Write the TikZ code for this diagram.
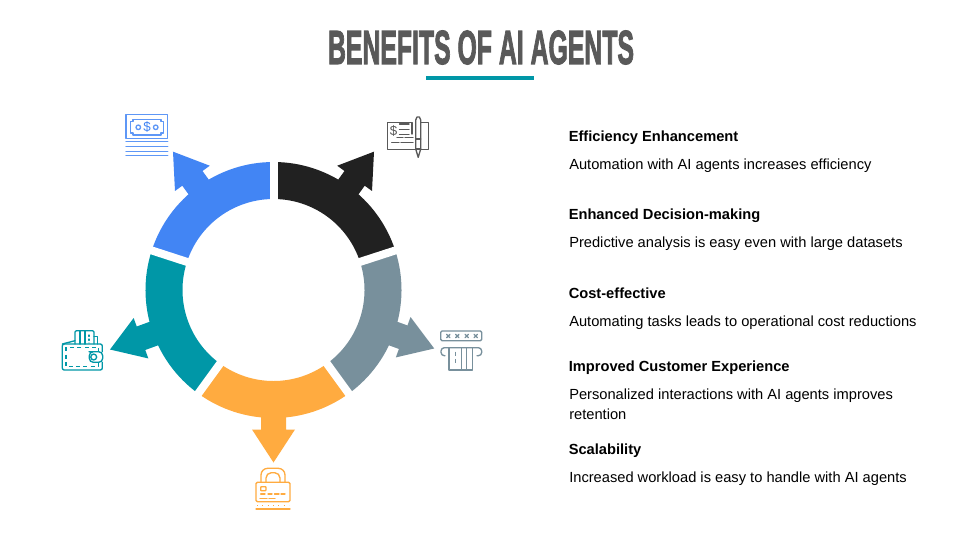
\documentclass[tikz,border=0pt]{standalone}
\usepackage{fontspec}
\setmainfont{Liberation Sans}
\newfontfamily\titlefont[FakeBold=2.6]{Liberation Sans}
\usetikzlibrary{calc}
\definecolor{cblue}{HTML}{4285F4}
\definecolor{cblack}{HTML}{212121}
\definecolor{cgrey}{HTML}{78909C}
\definecolor{cteal}{HTML}{0097A7}
\definecolor{corange}{HTML}{FFAB40}
\definecolor{ctitle}{HTML}{595959}
\definecolor{cink}{HTML}{595959}
\tikzset{
  head/.style={anchor=base west,font=\fontsize{11}{13}\selectfont\bfseries,text=black,inner sep=0pt},
  body/.style={anchor=base west,font=\fontsize{11}{13}\selectfont,text=black,inner sep=0pt},
  icon/.style={line width=0.8pt,line join=round,line cap=round},
  thinicon/.style={icon,line width=1pt}
}
% sector: start angle, end angle, colour, arrow angle, tip radius
\newcommand{\petal}[5]{%
  \fill[#3] (#1:128) arc[start angle=#1,end angle=#2,radius=96pt] -- (#2:91) arc[start angle=#2,end angle=#1,radius=68.25pt] -- cycle;
  \fill[#3,rotate=#4] (115,-12.5) -- ({#5-33},-12.5) -- ({#5-33},-21.5) -- (#5,0) -- ({#5-33},21.5) -- ({#5-33},12.5) -- (115,12.5) -- cycle;
}
\begin{document}
\begin{tikzpicture}[x=0.75pt,y=-0.75pt]
\useasboundingbox (0,0) rectangle (960,540);
\fill[white] (0,0) rectangle (960,540);
% title
\node[inner sep=0pt,text=ctitle] (title) at (481,47.5) {\resizebox{229.5pt}{25pt}{\titlefont\bfseries BENEFITS OF AI AGENTS}};
\fill[cteal] (426,76) rectangle (534,80);
% ring (drawn with y up around its centre)
\begin{scope}[shift={(273.5,290)},x=0.75pt,y=0.75pt]
  \petal{90}{162}{cblue}{126}{171}
  \petal{18}{90}{cblack}{54}{171}
  \petal{-54}{18}{cgrey}{-20}{171}
  \petal{-126}{-54}{corange}{-90}{172.5}
  \petal{162}{234}{cteal}{200}{174}
  \foreach \a in {90,162,234,306,18}
    \draw[white,line width=6pt] (\a:80) -- (\a:136);
\end{scope}
% money icon
\begin{scope}[draw=cblue!85!white,thinicon]
  \draw (126,114.5) rectangle (167.7,138.3);
  \draw (133,119.5) -- (161,119.5) -- (161,121.5) -- (163.3,121.5) -- (163.3,133) -- (161,133) -- (161,135) -- (133,135) -- (133,133) -- (130.7,133) -- (130.7,121.5) -- (133,121.5) -- cycle;
  \draw (138.3,127.3) circle[radius=1.7pt];
  \draw (155.7,127.3) circle[radius=1.7pt];
  \node[inner sep=0pt,text=cblue,font=\fontsize{10}{10}\selectfont] (dollarA) at (147,127.3) {\$};
  \draw (126,141.7) -- (167.7,141.7) (126,146.7) -- (167.7,146.7) (126,151.2) -- (167.7,151.2) (126,155.7) -- (167.7,155.7);
\end{scope}
% cheque icon
\begin{scope}[draw=cink,thinicon]
  \draw (412,122.7) -- (387.3,122.7) -- (387.3,149.3) -- (415.7,149.3);
  \draw (420.7,122.7) -- (428.3,122.7) -- (428.3,149.3) -- (420.7,149.3);
  \draw (412,122.7) -- (412,134);
  \node[inner sep=0pt,text=cink,font=\fontsize{10}{10}\selectfont] (dollarB) at (393.7,131) {\$};
  \draw (399.5,124) -- (409,124) (399.5,129.3) -- (409,129.3) (399.5,134.3) -- (409,134.3);
  \draw (397,137.7) -- (403,137.7) (405,137.7) -- (413,137.7);
  \draw (391.7,142.7) -- (399,142.7) (401,142.7) -- (413,142.7);
  \draw (415.7,120) -- (417,117) -- (419.4,117) -- (420.7,120) -- (420.7,149) -- (418.2,157.3) -- (415.7,149) -- cycle;
  \draw (415.7,139) -- (420.7,139);
  \draw (415.7,149) -- (420.7,149);
\end{scope}
% wallet icon
\begin{scope}[draw=cteal,thinicon]
  \draw[rounded corners=1.5pt] (102.3,351.7) -- (102.3,344) -- (62.3,344) -- (62.3,370) -- (102.3,370) -- (102.3,362.3);
  \draw[dash pattern=on 3pt off 2.5pt,line cap=butt] (66,347.3) rectangle (98.3,366.7);
  \draw[rounded corners=3pt,fill=white] (102.7,351.7) -- (93,351.7) -- (89.3,351.7) -- (89.3,362.3) -- (102.7,362.3) -- cycle;
  \draw (93.7,357) circle[radius=2.2pt];
  \draw (62.3,344) -- (75,340.7);
  \draw[rounded corners=1pt] (75,344) -- (75,330.7) -- (94,330.7) -- (94,344);
  \draw (80,330.7) -- (80,344) (85,330.7) -- (85,344);
  \draw[dotted] (89,335) -- (89,343);
  \draw (94,336.7) -- (97.3,336.7) -- (97.3,344);
\end{scope}
% card reader icon
\begin{scope}[draw=cgrey,thinicon]
  \draw[rounded corners=1pt] (440.7,331) rectangle (481.7,340.7);
  \foreach \x in {448.3,457.3,466.7,475.7} {
    \draw (\x-1.7,334.3) -- (\x+1.7,337.7) (\x-1.7,337.7) -- (\x+1.7,334.3);
  }
  \draw[rounded corners=2.5pt] (445,355.7) -- (441,355.7) -- (441,347.7) -- (481.7,347.7) -- (481.7,355.7) -- (477,355.7);
  \draw (449,347.7) -- (449,370) -- (472.7,370) -- (472.7,347.7);
  \draw (461.7,347.7) -- (461.7,370) (466.7,347.7) -- (466.7,370);
  \draw[dash pattern=on 3pt off 2.5pt,line cap=butt] (455.7,351.5) -- (455.7,365);
\end{scope}
% lock icon
\begin{scope}[draw=corange,thinicon]
  \draw[rounded corners=1pt] (256,482.3) rectangle (290,501.7);
  \draw[rounded corners=5pt] (261,482.3) -- (261,468.3) -- (285,468.3) -- (285,482.3);
  \draw[rounded corners=4pt] (266,482.3) -- (266,472.7) -- (280,472.7) -- (280,482.3);
  \draw[rounded corners=0.5pt] (260.7,486.7) rectangle (266,490.7);
  \draw (260.7,494) -- (265,494) (268,494) -- (272,494) (274.5,494) -- (279,494) (281,494) -- (285,494);
  \draw (260,498.3) -- (267,498.3) (269,498.3) -- (275,498.3);
  \draw[dash pattern=on 0.8pt off 3.2pt,line cap=butt] (257,505.7) -- (289,505.7);
  \draw (256,509) -- (290,509);
\end{scope}
% text
\node[head] (h1) at (568.5,141) {Efficiency Enhancement};
\node[body] (b1) at (569,169) {Automation with AI agents increases efficiency};
\node[head] (h2) at (568.5,219) {Enhanced Decision-making};
\node[body] (b2) at (569,247) {Predictive analysis is easy even with large datasets};
\node[head] (h3) at (568.5,298) {Cost-effective};
\node[body] (b3) at (569,326) {Automating tasks leads to operational cost reductions};
\node[head] (h4) at (568.5,371) {Improved Customer Experience};
\node[body] (b4) at (569,399) {Personalized interactions with AI agents improves};
\node[body] (b4b) at (569,419) {retention};
\node[head] (h5) at (568.5,454) {Scalability};
\node[body] (b5) at (569,482) {Increased workload is easy to handle with AI agents};
\end{tikzpicture}
\end{document}
